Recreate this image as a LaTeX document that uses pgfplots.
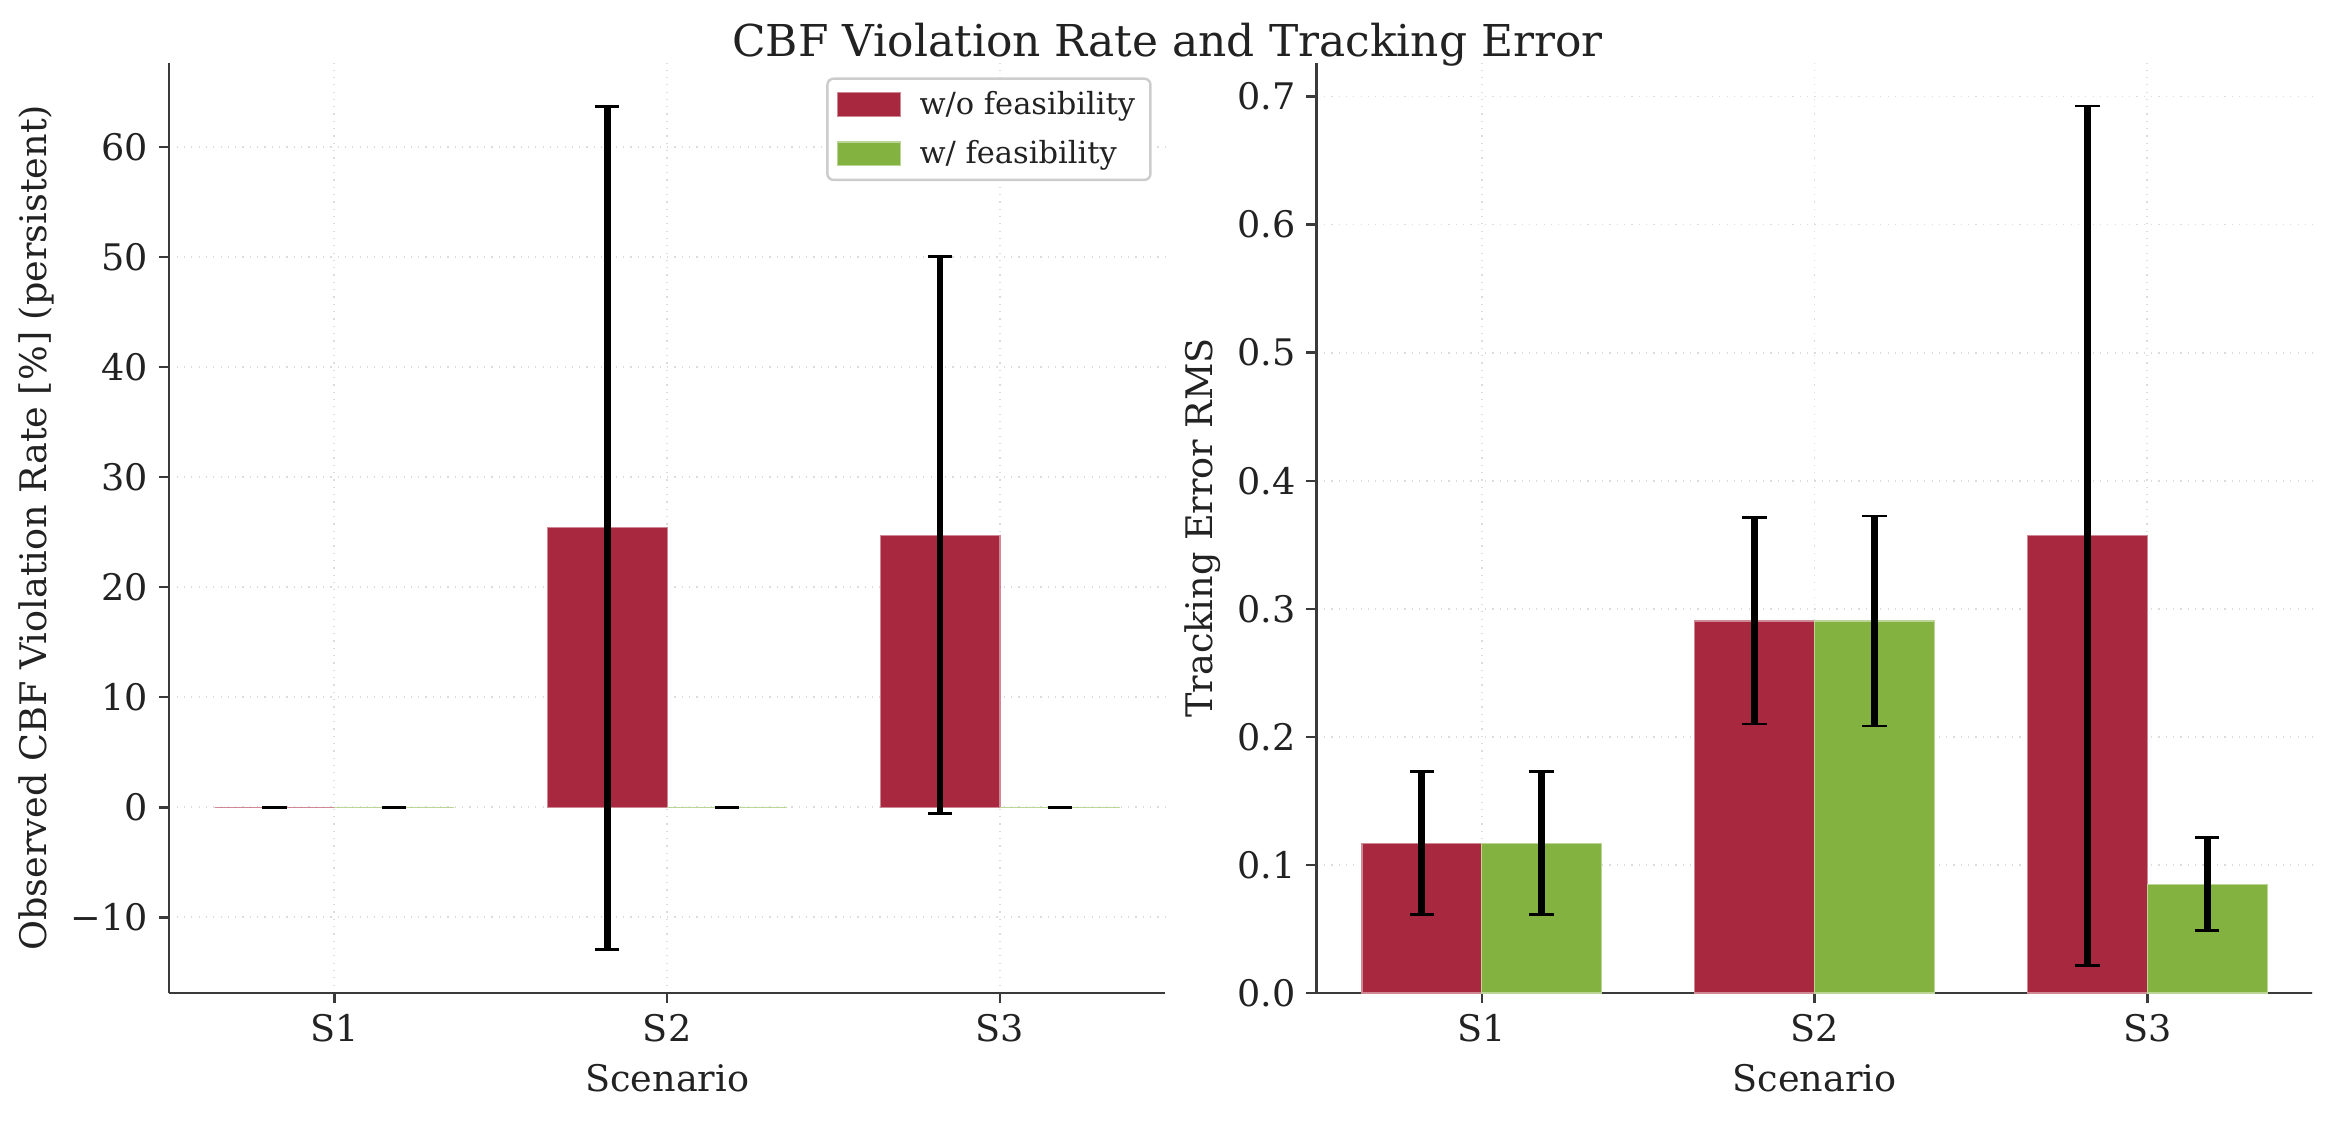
\documentclass[border=0pt]{standalone}
\usepackage{fontspec}
\setmainfont{DejaVu Serif}
\usepackage{pgfplots}
\usepackage{pgfplotstable}
\pgfplotsset{compat=1.18}

\definecolor{barred}{HTML}{A8283F}
\definecolor{bargreen}{HTML}{83B241}
\definecolor{spine}{HTML}{3A3A3A}
\definecolor{gridc}{HTML}{DCDCDC}
\definecolor{txt}{HTML}{222222}

% violation rate [%]: mean and std per scenario
\pgfplotstableread{
x  y     e
0  0     0
1  25.4  38.3
2  24.73 25.3
}\violwo
\pgfplotstableread{
x  y     e
0  0     0
1  0     0
2  0     0
}\violw
% tracking error RMS: mean and std per scenario
\pgfplotstableread{
x  y      e
0  0.117  0.0557
1  0.2905 0.0805
2  0.357  0.3355
}\trackwo
\pgfplotstableread{
x  y      e
0  0.117  0.0557
1  0.2905 0.0820
2  0.085  0.0362
}\trackw

\pgfplotsset{
  panel/.style={
    scale only axis, width=326.5pt, height=305.1pt,
    axis x line*=bottom, axis y line*=left,
    axis line style={spine, line width=0.8pt},
    tick align=outside, major tick length=3.4pt,
    tick style={spine, line width=0.8pt},
    xmin=-0.496, xmax=2.496,
    xtick={0,1,2}, xticklabels={S1,S2,S3},
    grid=major, major grid style={gridc, dotted, line width=0.6pt},
    ybar=0pt, bar width=0.36,
    ticklabel style={font=\fontsize{12}{14}\selectfont, text=txt},
    label style={font=\fontsize{12}{14}\selectfont, text=txt},
    xlabel={Scenario},
    xlabel style={at={(axis description cs:0.5,-0.1062)}, anchor=base},
  },
  barplot/.style={
    fill=#1, draw=#1!55!white, line width=0.4pt,
    error bars/y dir=both, error bars/y explicit,
    error bars/error bar style={black, line width=2.2pt},
    error bars/error mark options={black, rotate=90, mark size=4pt, line width=0.9pt},
  },
  barlegend/.style={legend image code/.code={\fill[##1, sharp corners] (0pt,-3.9pt) rectangle (20.8pt,3.9pt);}},
}

\begin{document}
\begin{tikzpicture}
\useasboundingbox (0,0) rectangle (765.6pt,367.9pt);

\node[font=\fontsize{14.4}{17}\selectfont, text=txt, anchor=base] at (382.8pt,349.5pt)
  {CBF Violation Rate and Tracking Error};

% left panel: CBF violation rate
\begin{axis}[panel, at={(55.5pt,42.3pt)}, anchor=south west,
  ymin=-16.88, ymax=67.68,
  ytick={-10,0,10,20,30,40,50,60},
  yticklabels={−10,0,10,20,30,40,50,60},
  ylabel={Observed CBF Violation Rate [\%] (persistent)},
  ylabel style={at={(axis description cs:-0.133,0.5)}, anchor=center},
  legend style={at={(1,1)}, anchor=north east, xshift=-4.4pt, yshift=-4.9pt,
    draw=gray!40, rounded corners=2pt, line width=0.8pt,
    font=\fontsize{10}{12}\selectfont, text=txt, row sep=3pt,
    /tikz/every odd column/.append style={column sep=4pt}},
  legend cell align=left,
]
\addplot[barplot=barred, bar shift=-0.18, barlegend] table[x=x, y=y, y error=e] {\violwo};
\addplot[barplot=bargreen, bar shift=0.18, barlegend] table[x=x, y=y, y error=e] {\violw};
\legend{w/o feasibility, w/ feasibility}
\end{axis}

% right panel: tracking error
\begin{axis}[panel, at={(431.7pt,42.3pt)}, anchor=south west,
  ymin=0, ymax=0.7265,
  ytick={0,0.1,0.2,0.3,0.4,0.5,0.6,0.7},
  yticklabels={0.0,0.1,0.2,0.3,0.4,0.5,0.6,0.7},
  ylabel={Tracking Error RMS},
  ylabel style={at={(axis description cs:-0.114,0.5)}, anchor=center},
]
\addplot[barplot=barred, bar shift=-0.18] table[x=x, y=y, y error=e] {\trackwo};
\addplot[barplot=bargreen, bar shift=0.18] table[x=x, y=y, y error=e] {\trackw};
\end{axis}
\end{tikzpicture}
\end{document}
